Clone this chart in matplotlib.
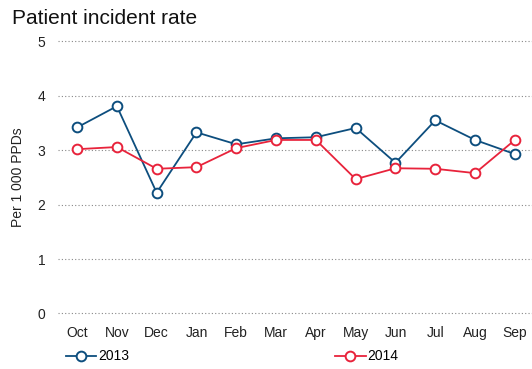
import numpy as np
import matplotlib
matplotlib.use("Agg")
import matplotlib.pyplot as plt

plt.rcParams['font.family'] = ['Liberation Sans', 'DejaVu Sans']

months = ['Oct', 'Nov', 'Dec', 'Jan', 'Feb', 'Mar', 'Apr', 'May', 'Jun', 'Jul', 'Aug', 'Sep']
rate_2013 = [3.42, 3.81, 2.22, 3.33, 3.11, 3.22, 3.24, 3.41, 2.77, 3.55, 3.19, 2.93]
rate_2014 = [3.02, 3.06, 2.66, 2.69, 3.04, 3.19, 3.19, 2.47, 2.67, 2.66, 2.58, 3.19]
y_ticks = [0, 1, 2, 3, 4, 5]

blue = '#0d4e7e'
red = '#e8233b'

fig = plt.figure(figsize=(5.32, 3.69), dpi=100)
ax = fig.add_axes([0.109, 0.146, 0.891, 0.746])

x = np.arange(len(months))
ax.plot(x, rate_2013, color=blue, lw=1.3, marker='o', ms=7, mfc='white',
        mec=blue, mew=1.4, label='2013', clip_on=False, zorder=3)
ax.plot(x, rate_2014, color=red, lw=1.3, marker='o', ms=7, mfc='white',
        mec=red, mew=1.4, label='2014', clip_on=False, zorder=3)

ax.set_xlim(-0.48, 11.43)
ax.set_ylim(-0.03, 5.03)
ax.set_xticks(x)
ax.set_xticklabels(months)
ax.set_yticks(y_ticks)
ax.tick_params(length=0, labelsize=10, colors='#222222')
ax.tick_params(axis='x', pad=8)
ax.tick_params(axis='y', pad=9)
for s in ax.spines.values():
    s.set_visible(False)
ax.yaxis.grid(True, linestyle=(0, (1, 2)), color='#888888', lw=0.8)
ax.set_axisbelow(True)

ax.set_ylabel('Per 1 000 PPDs', fontsize=10, color='#222222', labelpad=9)

fig.text(0.022, 0.95, 'Patient incident rate', fontsize=15, color='#111111',
         ha='left', va='center')

ax.legend(ncol=2, loc='center left', bbox_to_anchor=(0.005, -0.15),
          frameon=False, fontsize=10, handlelength=2.2, handletextpad=0.15,
          columnspacing=14.8, borderaxespad=0)

fig.savefig('out.png', dpi=100)
